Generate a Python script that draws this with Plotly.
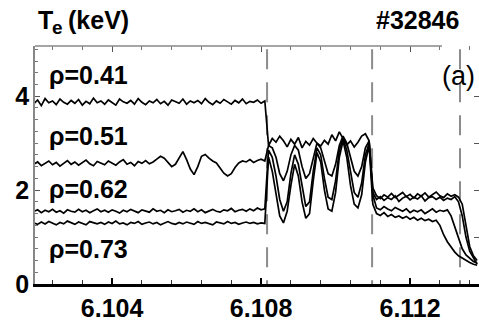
import plotly.graph_objects as go

# time grid (s), 0.1 ms sampling
t0 = 6.1019
dt = 0.0001
n_pts = 120
time = [round(t0 + dt * i, 4) for i in range(n_pts)]

# rho = 0.41
te_041_pre = [3.84, 3.92, 3.80, 3.95, 3.86, 3.90, 3.82, 3.94, 3.87, 3.83,
              3.91, 3.85, 3.93, 3.81, 3.89, 3.84, 3.96, 3.86, 3.90, 3.83,
              3.92, 3.87, 3.81, 3.94, 3.88, 3.85, 3.91, 3.83, 3.95, 3.87,
              3.82, 3.90, 3.86, 3.93, 3.84, 3.89, 3.81, 3.92, 3.88, 3.85,
              3.94, 3.83, 3.90, 3.86, 3.91, 3.84, 3.95, 3.87, 3.82, 3.90,
              3.85, 3.93, 3.88, 3.83, 3.91, 3.86, 3.94, 3.84, 3.89, 3.87,
              3.92, 3.85, 3.90]
te_041_mid = [2.95, 3.10, 3.02, 3.15, 3.05, 2.92, 3.08, 2.98, 3.12, 2.90,
              3.04, 2.96, 3.10, 3.00, 2.94, 3.06, 2.98, 3.18, 3.05, 3.24,
              3.10, 2.96, 3.05, 2.92, 3.02, 3.15, 3.20, 3.05]
te_041_post = [2.05, 1.88, 1.82, 1.90, 1.85, 1.93, 1.84, 1.89, 1.95, 1.86,
               1.91, 1.83, 1.92, 1.87, 1.94, 1.85, 1.90, 1.96, 1.88, 1.84,
               1.92, 1.87, 1.90, 1.85, 1.70, 1.20, 0.80, 0.60, 0.50]

# rho = 0.51
te_051_pre = [2.55, 2.60, 2.52, 2.58, 2.62, 2.54, 2.59, 2.51, 2.57, 2.63,
              2.55, 2.60, 2.53, 2.58, 2.64, 2.56, 2.52, 2.61, 2.57, 2.54,
              2.62, 2.58, 2.53, 2.60, 2.65, 2.55, 2.59, 2.52, 2.61, 2.57,
              2.63, 2.56, 2.60, 2.66, 2.72, 2.68, 2.58, 2.50, 2.55, 2.70,
              2.82, 2.65, 2.45, 2.33, 2.50, 2.72, 2.76, 2.68, 2.62, 2.58,
              2.48, 2.36, 2.30, 2.35, 2.48, 2.58, 2.62, 2.60, 2.65, 2.59,
              2.63, 2.66, 2.62]
te_051_mid = [2.95, 2.90, 2.70, 2.35, 2.20, 2.40, 2.75, 2.95, 2.85, 2.50,
              2.25, 2.35, 2.70, 3.00, 2.90, 2.60, 2.35, 2.30, 2.55, 2.95,
              3.15, 3.00, 2.70, 2.40, 2.30, 2.50, 2.90, 3.05]
te_051_post = [1.95, 1.80, 1.86, 1.78, 1.84, 1.80, 1.88, 1.76, 1.83, 1.87,
               1.79, 1.85, 1.81, 1.88, 1.77, 1.84, 1.86, 1.80, 1.85, 1.78,
               1.83, 1.80, 1.86, 1.75, 1.45, 1.00, 0.70, 0.55, 0.42]

# rho = 0.62
te_062_pre = [1.55, 1.58, 1.52, 1.57, 1.54, 1.59, 1.53, 1.56, 1.51, 1.58,
              1.55, 1.53, 1.59, 1.54, 1.57, 1.52, 1.56, 1.60, 1.54, 1.57,
              1.53, 1.58, 1.55, 1.51, 1.57, 1.54, 1.59, 1.55, 1.52, 1.58,
              1.56, 1.53, 1.60, 1.55, 1.57, 1.52, 1.58, 1.54, 1.56, 1.59,
              1.53, 1.57, 1.55, 1.60, 1.54, 1.58, 1.52, 1.56, 1.59, 1.55,
              1.53, 1.58, 1.56, 1.61, 1.54, 1.57, 1.59, 1.55, 1.60, 1.56,
              1.62, 1.58, 1.60]
te_062_mid = [2.85, 2.70, 2.30, 1.80, 1.55, 1.75, 2.35, 2.75, 2.55, 2.05,
              1.65, 1.75, 2.40, 2.90, 2.75, 2.25, 1.85, 1.80, 2.20, 2.85,
              3.10, 2.85, 2.35, 1.95, 1.85, 2.15, 2.75, 3.00]
te_062_post = [1.90, 1.62, 1.58, 1.65, 1.60, 1.56, 1.63, 1.59, 1.55, 1.60,
               1.52, 1.57, 1.54, 1.58, 1.50, 1.55, 1.60, 1.53, 1.57, 1.55,
               1.58, 1.45, 1.20, 0.95, 0.75, 0.62, 0.55, 0.48, 0.45]

# rho = 0.73
te_073_pre = [1.30, 1.27, 1.32, 1.28, 1.33, 1.29, 1.26, 1.31, 1.28, 1.34,
              1.30, 1.27, 1.32, 1.29, 1.26, 1.33, 1.30, 1.28, 1.31, 1.27,
              1.32, 1.29, 1.34, 1.28, 1.30, 1.26, 1.31, 1.29, 1.33, 1.27,
              1.30, 1.32, 1.28, 1.31, 1.26, 1.30, 1.33, 1.29, 1.27, 1.31,
              1.28, 1.32, 1.30, 1.27, 1.33, 1.29, 1.31, 1.28, 1.26, 1.32,
              1.30, 1.28, 1.33, 1.29, 1.31, 1.27, 1.30, 1.32, 1.29, 1.31,
              1.28, 1.30, 1.29]
te_073_mid = [2.70, 2.40, 1.90, 1.45, 1.30, 1.55, 2.10, 2.55, 2.30, 1.75,
              1.40, 1.50, 2.20, 2.80, 2.60, 2.00, 1.60, 1.55, 1.95, 2.70,
              3.05, 2.70, 2.10, 1.70, 1.62, 1.90, 2.60, 2.95]
te_073_post = [1.70, 1.50, 1.46, 1.52, 1.44, 1.48, 1.42, 1.45, 1.40, 1.44,
               1.38, 1.42, 1.36, 1.40, 1.35, 1.38, 1.33, 1.36, 1.25, 1.05,
               0.90, 0.78, 0.68, 0.60, 0.55, 0.50, 0.46, 0.42, 0.40]

series = {
    "ρ=0.41": te_041_pre + te_041_mid + te_041_post,
    "ρ=0.51": te_051_pre + te_051_mid + te_051_post,
    "ρ=0.62": te_062_pre + te_062_mid + te_062_post,
    "ρ=0.73": te_073_pre + te_073_mid + te_073_post,
}
label_y = {"ρ=0.41": 0.878, "ρ=0.51": 0.622, "ρ=0.62": 0.399, "ρ=0.73": 0.147}

event_times = [6.10816, 6.11098, 6.11334]
x_major = [6.104, 6.108, 6.112]
x_labels = ["6.104", "6.108", "6.112"]
y_major = [0, 2, 4]
y_labels = ["0", "2", "4"]
y_right_ticks = [1, 2, 3, 4]

x_range = [6.10193, 6.11385]
y_range = [0, 5.07]

FONT = "Liberation Sans, Arial"

fig = go.Figure()
for name, vals in series.items():
    fig.add_trace(go.Scatter(x=time, y=vals, mode="lines", name=name,
                             line=dict(color="black", width=1.7),
                             showlegend=False))
# invisible trace for secondary axes
fig.add_trace(go.Scatter(x=[time[0]], y=[0], xaxis="x2", yaxis="y2",
                         mode="markers", marker=dict(opacity=0),
                         showlegend=False, hoverinfo="skip"))

for te in event_times:
    fig.add_shape(type="line", x0=te, x1=te, y0=5.0, y1=0, xref="x", yref="y",
                  line=dict(color="#8c8c8c", width=2, dash="20px,13px"),
                  layer="below")

# top axis line (truncated by the panel label)
fig.add_shape(type="line", x0=0, x1=(442 - 35) / 444, y0=1, y1=1,
              xref="paper", yref="paper",
              line=dict(color="#888888", width=1.5))


def px_x(p):
    return (p - 35) / 444


def px_y(p):
    return (284 - p) / 238


for name, yy in label_y.items():
    fig.add_annotation(text=name, x=px_x(47), y=yy, xref="paper",
                       yref="paper", xanchor="left", yanchor="middle",
                       showarrow=False,
                       font=dict(family=FONT, size=25, color="black",
                                 weight="bold"))

# y-axis title "Te (keV)" built from pieces
title_font = dict(family=FONT, size=25, color="black", weight="bold")
fig.add_annotation(text="T", x=px_x(36), y=px_y(20), xref="paper",
                   yref="paper", xanchor="left", yanchor="middle",
                   showarrow=False, font=title_font)
fig.add_annotation(text="e", x=px_x(50), y=px_y(27), xref="paper",
                   yref="paper", xanchor="left", yanchor="middle",
                   showarrow=False,
                   font=dict(family=FONT, size=19, color="black",
                             weight="bold"))
fig.add_annotation(text="(keV)", x=px_x(131), y=px_y(20), xref="paper",
                   yref="paper", xanchor="right", yanchor="middle",
                   showarrow=False, font=title_font)
fig.add_annotation(text="#32846", x=px_x(461), y=px_y(20), xref="paper",
                   yref="paper", xanchor="right", yanchor="middle",
                   showarrow=False, font=title_font)
fig.add_annotation(text="(a)", x=px_x(477), y=px_y(76), xref="paper",
                   yref="paper", xanchor="right", yanchor="middle",
                   showarrow=False,
                   font=dict(family=FONT, size=27, color="black"))

fig.update_layout(
    width=479, height=324,
    margin=dict(l=35, r=0, t=46, b=40),
    paper_bgcolor="white", plot_bgcolor="white",
    xaxis=dict(range=x_range, tickvals=x_major, ticktext=x_labels,
               ticks="inside", ticklen=6, tickwidth=1.5, tickcolor="black",
               showline=True, linecolor="black", linewidth=3,
               showgrid=False, zeroline=False,
               tickfont=dict(family=FONT, size=25, color="black", weight="bold"),
               minor=dict(tick0=6.104, dtick=0.0008, ticks="inside", ticklen=4,
                          tickwidth=1, tickcolor="#333333", showgrid=False)),
    xaxis2=dict(range=x_range, overlaying="x", side="top", tickvals=x_major,
                ticks="inside", ticklen=6, tickwidth=1.2, tickcolor="#555555",
                showticklabels=False, showline=False, showgrid=False,
                zeroline=False,
                minor=dict(tick0=6.104, dtick=0.0008, ticks="inside",
                           ticklen=4, tickwidth=1, tickcolor="#777777",
                           showgrid=False)),
    yaxis=dict(range=y_range, tickvals=y_major, ticktext=y_labels,
               ticks="inside", ticklen=5, tickwidth=1.2, tickcolor="#555555",
               showline=True, linecolor="#888888", linewidth=1.5,
               showgrid=False, zeroline=False, ticklabelstandoff=-1,
               tickfont=dict(family=FONT, size=25, color="black", weight="bold"),
               minor=dict(dtick=0.25, ticks="inside", ticklen=3, tickwidth=1,
                          tickcolor="#777777", showgrid=False)),
    yaxis2=dict(range=y_range, overlaying="y", side="right",
                tickvals=y_right_ticks,
                ticks="inside", ticklen=5, tickwidth=1.2, tickcolor="#555555",
                showticklabels=False, showline=False, showgrid=False,
                zeroline=False),
)

fig.write_html("out.html")
